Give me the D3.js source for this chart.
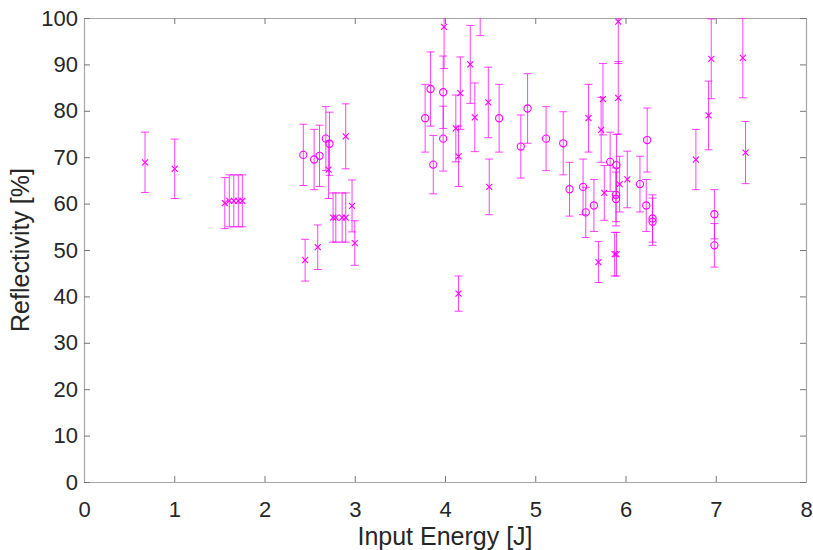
<!DOCTYPE html>
<html>
<head>
<meta charset="utf-8">
<script src="https://cdn.jsdelivr.net/npm/d3@7"></script>
<style>
  body { margin: 0; background: #fff; }
  text { font-family: "Liberation Sans", Arial, sans-serif; fill: #262626; }
</style>
</head>
<body>
<svg id="chart"></svg>
<script>
var width = 813,
    height = 550;

var margin = {top: 18, right: 7, bottom: 68, left: 84};

// cross markers: [energy, reflectivity, error]
var crossX = [0.676, 1.005, 1.56, 1.61, 1.66, 1.71, 1.755, 2.45, 2.59, 2.71, 2.76, 2.79, 2.86, 2.90, 2.90, 2.97, 3.00,
  3.99, 4.12, 4.15, 4.15, 4.17, 4.28, 4.33, 4.39, 4.48, 4.49,
  5.59, 5.70, 5.73, 5.75, 5.765, 5.88, 5.90, 5.92, 5.92, 5.935, 6.02, 6.78, 6.92, 6.95, 7.30, 7.33];
var crossY = [68.9, 67.5, 60.1, 60.6, 60.6, 60.6, 60.6, 47.8, 50.6, 67.3, 57.0, 57.0, 57.0, 57.0, 74.5, 59.5, 51.5,
  98.1, 76.2, 70.2, 40.6, 83.8, 90.0, 78.6, 104.2, 81.8, 63.6,
  78.4, 47.4, 75.9, 82.5, 62.3, 49.1, 49.1, 99.2, 82.8, 64.2, 65.2, 69.5, 79.0, 91.2, 91.4, 71.0];
var crossErr = [6.5, 6.4, 5.5, 5.6, 5.6, 5.6, 5.6, 4.5, 4.8, 6.2, 5.3, 5.3, 5.3, 5.3, 7.0, 5.6, 4.8,
  9.0, 7.2, 6.5, 3.8, 7.8, 8.4, 7.4, 8.0, 7.6, 6.0,
  7.3, 4.4, 7.0, 7.7, 5.9, 4.7, 4.7, 9.0, 7.8, 6.0, 6.1, 6.5, 7.4, 8.6, 8.6, 6.7];

// circle markers
var circX = [2.43, 2.55, 2.61, 2.68, 2.72, 3.78, 3.84, 3.87, 3.98, 3.98, 4.60, 4.84, 4.915,
  5.12, 5.31, 5.38, 5.53, 5.56, 5.65, 5.83, 5.90, 5.895, 5.895, 6.16, 6.23, 6.24, 6.30, 6.30, 6.985, 6.985];
var circY = [70.5, 69.5, 70.3, 74.0, 72.9, 78.4, 84.7, 68.4, 84.0, 74.0, 78.4, 72.3, 80.5,
  74.0, 73.0, 63.1, 63.6, 58.1, 59.6, 69.0, 68.3, 61.9, 61.0, 64.2, 59.6, 73.7, 56.8, 56.1, 57.7, 51.0];
var circErr = [6.6, 6.5, 6.6, 6.9, 6.8, 7.3, 8.0, 6.3, 7.8, 7.0, 7.3, 6.8, 7.5,
  6.9, 6.8, 5.8, 6.0, 5.4, 5.6, 6.4, 6.6, 5.8, 5.8, 6.0, 5.6, 6.9, 5.1, 5.1, 5.3, 4.7];

var xTicks = d3.range(0, 9, 1),
    yTicks = d3.range(0, 101, 10);

var color = "#ff00ff";

var svg = d3.select("#chart")
    .attr("width", width)
    .attr("height", height);

var w = width - margin.left - margin.right,
    h = height - margin.top - margin.bottom;

var x = d3.scaleLinear().domain([0, 8]).range([0, w]),
    y = d3.scaleLinear().domain([0, 100]).range([h, 0]);

var g = svg.append("g")
    .attr("transform", "translate(" + margin.left + "," + margin.top + ")");

g.append("clipPath").attr("id", "plotclip")
  .append("rect").attr("width", w).attr("height", h);

// axes, matlab style: ticks inside, box all round
function styleAxis(sel) {
  sel.select(".domain").attr("stroke", "#a6a6a6").attr("stroke-width", 1.2);
  sel.selectAll(".tick line").attr("stroke", "#777");
  sel.selectAll(".tick text").style("font-size", "22px").attr("fill", "#262626");
}

g.append("g")
    .attr("transform", "translate(0," + h + ")")
    .call(d3.axisBottom(x).tickValues(xTicks).tickSizeInner(-6).tickSizeOuter(0).tickPadding(35))
    .call(styleAxis)
    .selectAll(".tick text").attr("dy", null);

g.append("g")
    .call(d3.axisTop(x).tickValues(xTicks).tickSizeInner(-6).tickSizeOuter(0).tickFormat(""))
    .call(styleAxis);

g.append("g")
    .call(d3.axisLeft(y).tickValues(yTicks).tickSizeInner(-6).tickSizeOuter(0).tickPadding(6))
    .call(styleAxis);

g.append("g")
    .attr("transform", "translate(" + w + ",0)")
    .call(d3.axisRight(y).tickValues(yTicks).tickSizeInner(-6).tickSizeOuter(0).tickFormat(""))
    .call(styleAxis);

// labels
svg.append("text")
    .attr("x", margin.left + w / 2)
    .attr("y", 545)
    .attr("text-anchor", "middle")
    .style("font-size", "25px")
    .text("Input Energy [J]");

svg.append("text")
    .attr("transform", "translate(29," + (margin.top + h / 2) + ")rotate(-90)")
    .attr("text-anchor", "middle")
    .style("font-size", "25px")
    .text("Reflectivity [%]");

var crosses = crossX.map(function(v, i) { return {x: v, y: crossY[i], e: crossErr[i], m: "x"}; }),
    circles = circX.map(function(v, i) { return {x: v, y: circY[i], e: circErr[i], m: "o"}; });
var pts = crosses.concat(circles);

var plot = g.append("g").attr("clip-path", "url(#plotclip)");

var cap = 4;

var eb = plot.selectAll(".eb")
    .data(pts)
  .enter().append("g")
    .attr("class", "eb")
    .attr("stroke", color)
    .attr("stroke-opacity", 0.75)
    .attr("stroke-width", 1);

eb.append("line")
    .attr("x1", d => x(d.x)).attr("x2", d => x(d.x))
    .attr("y1", d => y(d.y - d.e)).attr("y2", d => y(d.y + d.e));
eb.append("line")
    .attr("x1", d => x(d.x) - cap).attr("x2", d => x(d.x) + cap)
    .attr("y1", d => y(d.y + d.e)).attr("y2", d => y(d.y + d.e));
eb.append("line")
    .attr("x1", d => x(d.x) - cap).attr("x2", d => x(d.x) + cap)
    .attr("y1", d => y(d.y - d.e)).attr("y2", d => y(d.y - d.e));

var ms = 3;
plot.selectAll(".cross")
    .data(crosses)
  .enter().append("path")
    .attr("class", "cross")
    .attr("d", function(d) {
      var cx = x(d.x), cy = y(d.y);
      return "M" + (cx - ms) + "," + (cy - ms) + "L" + (cx + ms) + "," + (cy + ms) +
             "M" + (cx - ms) + "," + (cy + ms) + "L" + (cx + ms) + "," + (cy - ms);
    })
    .attr("stroke", color)
    .attr("stroke-width", 1.1)
    .attr("fill", "none");

plot.selectAll(".circ")
    .data(circles)
  .enter().append("circle")
    .attr("class", "circ")
    .attr("cx", d => x(d.x))
    .attr("cy", d => y(d.y))
    .attr("r", 3.6)
    .attr("stroke", color)
    .attr("stroke-width", 1.1)
    .attr("fill", "none");
</script>
</body>
</html>
